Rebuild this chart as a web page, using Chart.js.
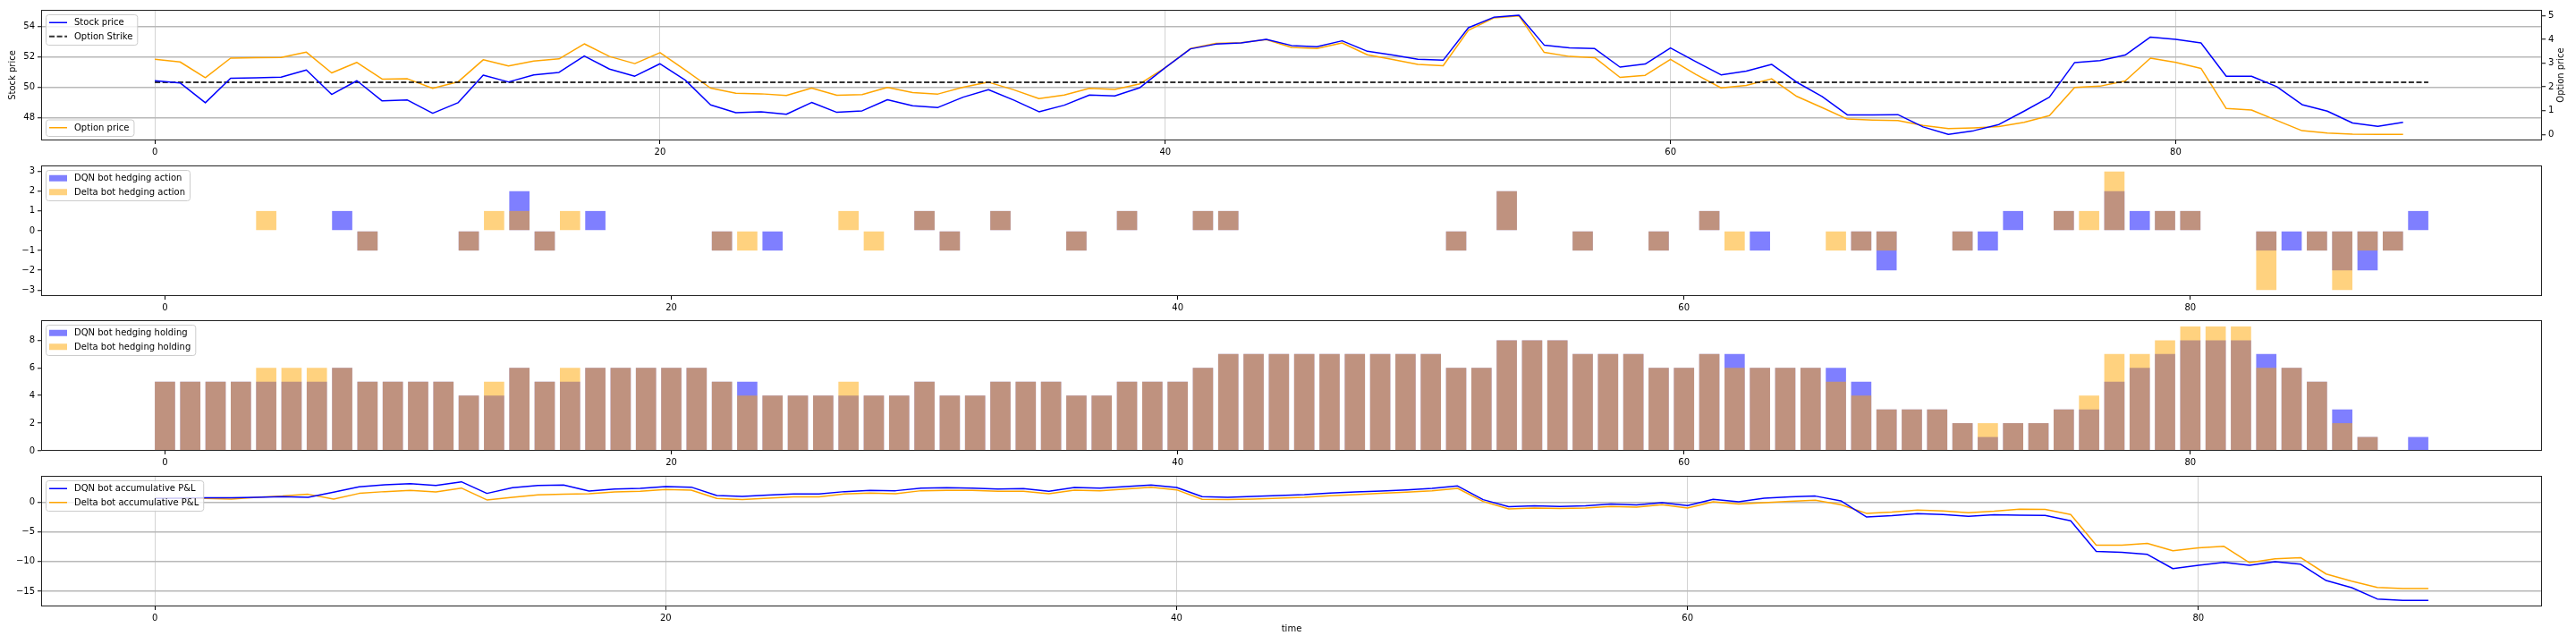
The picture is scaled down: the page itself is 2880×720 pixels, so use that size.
<!DOCTYPE html>
<html>
<head>
<meta charset="utf-8">
<script src="https://cdn.jsdelivr.net/npm/chart.js@4.4.1/dist/chart.umd.min.js"></script>
<style>
  html, body { margin: 0; padding: 0; background: #fff; }
  #page { position: relative; width: 2880px; height: 720px; overflow: hidden; }
  #page canvas { position: absolute; left: 0; }
</style>
</head>
<body>
<div id="page">
  <canvas id="priceChart" width="2880" height="181" style="top:0px"></canvas>
  <canvas id="actionChart" width="2880" height="180" style="top:175px"></canvas>
  <canvas id="holdingChart" width="2880" height="180" style="top:348px"></canvas>
  <canvas id="pnlChart" width="2880" height="190" style="top:522px"></canvas>
</div>
<script>
// Values, one entry per time step
const stockPrice = [
    50.43, 50.29, 48.98, 50.59, 50.63, 50.67, 51.14, 49.53, 50.43, 49.10,
    49.16, 48.29, 48.98, 50.80, 50.35, 50.82, 50.98, 52.06, 51.20, 50.73,
    51.55, 50.47, 48.84, 48.33, 48.39, 48.22, 49.00, 48.35, 48.45, 49.18,
    48.78, 48.67, 49.35, 49.84, 49.16, 48.39, 48.82, 49.49, 49.43, 49.98,
    51.29, 52.53, 52.84, 52.92, 53.16, 52.75, 52.67, 53.06, 52.37, 52.12,
    51.84, 51.78, 53.92, 54.61, 54.75, 52.78, 52.59, 52.55, 51.33, 51.53,
    52.59, 51.69, 50.82, 51.06, 51.51, 50.33, 49.39, 48.18, 48.18, 48.20,
    47.39, 46.90, 47.14, 47.55, 48.43, 49.35, 51.63, 51.76, 52.12, 53.31,
    53.16, 52.92, 50.73, 50.73, 50.04, 48.86, 48.43, 47.65, 47.43, 47.69
];
const optionPrice = [
    3.16, 3.05, 2.39, 3.21, 3.23, 3.24, 3.46, 2.59, 3.03, 2.33,
    2.34, 1.94, 2.21, 3.14, 2.88, 3.09, 3.18, 3.81, 3.28, 2.98,
    3.44, 2.71, 1.95, 1.73, 1.71, 1.64, 1.95, 1.65, 1.68, 1.98,
    1.76, 1.70, 1.99, 2.20, 1.88, 1.51, 1.66, 1.94, 1.89, 2.13,
    2.81, 3.61, 3.83, 3.86, 3.99, 3.66, 3.61, 3.85, 3.35, 3.15,
    2.95, 2.89, 4.38, 4.90, 4.99, 3.45, 3.28, 3.23, 2.40, 2.49,
    3.16, 2.53, 1.96, 2.06, 2.34, 1.60, 1.13, 0.65, 0.61, 0.59,
    0.38, 0.25, 0.28, 0.33, 0.51, 0.79, 1.98, 2.03, 2.25, 3.21,
    3.03, 2.78, 1.09, 1.03, 0.59, 0.16, 0.06, 0.01, 0.00, 0.00
];
const optionStrike = 50.33;
const strikeSteps = [0, 90];

const dqnAction = [
    0, 0, 0, 0, 0, 0, 0, 1, -1, 0,
    0, 0, -1, 0, 2, -1, 0, 1, 0, 0,
    0, 0, -1, 0, -1, 0, 0, 0, 0, 0,
    1, -1, 0, 1, 0, 0, -1, 0, 1, 0,
    0, 1, 1, 0, 0, 0, 0, 0, 0, 0,
    0, -1, 0, 2, 0, 0, -1, 0, 0, -1,
    0, 1, 0, -1, 0, 0, 0, -1, -2, 0,
    0, -1, -1, 1, 0, 1, 0, 2, 1, 1,
    1, 0, 0, -1, -1, -1, -2, -2, -1, 1
];
const deltaAction = [
    0, 0, 0, 0, 1, 0, 0, 0, -1, 0,
    0, 0, -1, 1, 1, -1, 1, 0, 0, 0,
    0, 0, -1, -1, 0, 0, 0, 1, -1, 0,
    1, -1, 0, 1, 0, 0, -1, 0, 1, 0,
    0, 1, 1, 0, 0, 0, 0, 0, 0, 0,
    0, -1, 0, 2, 0, 0, -1, 0, 0, -1,
    0, 1, -1, 0, 0, 0, -1, -1, -1, 0,
    0, -1, 0, 0, 0, 1, 1, 3, 0, 1,
    1, 0, 0, -3, 0, -1, -3, -1, -1, 0
];

const dqnHolding = [
    5, 5, 5, 5, 5, 5, 5, 6, 5, 5,
    5, 5, 4, 4, 6, 5, 5, 6, 6, 6,
    6, 6, 5, 5, 4, 4, 4, 4, 4, 4,
    5, 4, 4, 5, 5, 5, 4, 4, 5, 5,
    5, 6, 7, 7, 7, 7, 7, 7, 7, 7,
    7, 6, 6, 8, 8, 8, 7, 7, 7, 6,
    6, 7, 7, 6, 6, 6, 6, 5, 3, 3,
    3, 2, 1, 2, 2, 3, 3, 5, 6, 7,
    8, 8, 8, 7, 6, 5, 3, 1, 0, 1
];
const deltaHolding = [
    5, 5, 5, 5, 6, 6, 6, 6, 5, 5,
    5, 5, 4, 5, 6, 5, 6, 6, 6, 6,
    6, 6, 5, 4, 4, 4, 4, 5, 4, 4,
    5, 4, 4, 5, 5, 5, 4, 4, 5, 5,
    5, 6, 7, 7, 7, 7, 7, 7, 7, 7,
    7, 6, 6, 8, 8, 8, 7, 7, 7, 6,
    6, 7, 6, 6, 6, 6, 5, 4, 3, 3,
    3, 2, 2, 2, 2, 3, 4, 7, 7, 8,
    9, 9, 9, 6, 6, 5, 2, 1, 0, 0
];

const dqnPnl = [
    0.60, 0.65, 0.70, 0.70, 0.80, 0.90, 0.80, 1.65, 2.55, 2.90,
    3.10, 2.80, 3.40, 1.45, 2.40, 2.80, 2.85, 1.85, 2.20, 2.30,
    2.60, 2.50, 1.10, 0.95, 1.15, 1.35, 1.35, 1.75, 1.95, 1.90,
    2.35, 2.40, 2.35, 2.20, 2.25, 1.80, 2.45, 2.35, 2.60, 2.85,
    2.45, 0.90, 0.80, 0.95, 1.10, 1.25, 1.50, 1.70, 1.85, 2.05,
    2.30, 2.70, 0.40, -0.80, -0.65, -0.75, -0.65, -0.35, -0.50, -0.10,
    -0.60, 0.45, 0.05, 0.65, 0.85, 1.00, 0.20, -2.50, -2.30, -1.95,
    -2.10, -2.40, -2.15, -2.20, -2.25, -3.15, -8.30, -8.45, -8.80, -11.20,
    -10.65, -10.15, -10.65, -10.05, -10.45, -13.20, -14.40, -16.30, -16.55, -16.55
];
const deltaPnl = [
    0.60, 0.60, 0.60, 0.50, 0.80, 1.00, 1.30, 0.50, 1.45, 1.75,
    1.95, 1.70, 2.35, 0.35, 0.80, 1.20, 1.30, 1.40, 1.70, 1.80,
    2.10, 2.00, 0.60, 0.40, 0.65, 0.85, 0.85, 1.35, 1.50, 1.40,
    1.90, 1.95, 1.95, 1.80, 1.80, 1.40, 2.00, 1.90, 2.20, 2.50,
    2.05, 0.45, 0.40, 0.50, 0.65, 0.80, 1.05, 1.25, 1.45, 1.65,
    1.90, 2.30, 0.10, -1.15, -1.00, -1.10, -1.00, -0.75, -0.85, -0.45,
    -1.00, 0.05, -0.35, -0.10, 0.10, 0.30, -0.45, -1.90, -1.70, -1.35,
    -1.50, -1.80, -1.55, -1.20, -1.25, -2.10, -7.25, -7.25, -6.95, -8.20,
    -7.70, -7.45, -10.20, -9.55, -9.35, -12.10, -13.30, -14.35, -14.55, -14.55
];

// Tick labels
const timeTicks = [0, 20, 40, 60, 80];
const priceTicks = [48, 50, 52, 54];
const optionTicks = [0, 1, 2, 3, 4, 5];
const actionTicks = [-3, -2, -1, 0, 1, 2, 3];
const holdingTicks = [0, 2, 4, 6, 8];
const pnlTicks = [-15, -10, -5, 0];

Chart.defaults.font.family = '"DejaVu Sans", sans-serif';
Chart.defaults.font.size = 10;
Chart.defaults.color = '#000';

const BLUE = '#0000ff';
const ORANGE = '#ffa500';
const BLUE_BAR = 'rgba(0, 0, 255, 0.5)';
const ORANGE_BAR = 'rgba(255, 165, 0, 0.5)';

const pts = ys => ys.map((y, i) => ({ x: i, y: y }));
const minus = v => String(v).replace('-', '\u2212');

// black box round the plot area
const frame = {
    id: 'frame',
    afterDatasetsDraw(chart) {
        const { ctx, chartArea: a } = chart;
        ctx.save();
        ctx.strokeStyle = '#222';
        ctx.lineWidth = 1;
        ctx.strokeRect(Math.round(a.left) + 0.5, Math.round(a.top) + 0.5,
            Math.round(a.right - a.left) - 1, Math.round(a.bottom - a.top) - 1);
        ctx.restore();
    }
};

// matplotlib-like legend boxes, items taken from the chart's datasets
const boxLegend = {
    id: 'boxLegend',
    afterDraw(chart, args, opts) {
        const { ctx, chartArea: a } = chart;
        (opts.boxes || []).forEach(box => {
            const items = box.items.map(i => chart.data.datasets[i]);
            ctx.save();
            ctx.font = '10px "DejaVu Sans"';
            const textW = Math.max(...items.map(d => ctx.measureText(d.label).width));
            const w = 4 + 20 + 8 + textW + 5;
            const h = 8 + items.length * 10.5 + (items.length - 1) * 5;
            const x = a.left + 5;
            const y = box.corner === 'lower' ? a.bottom - 5 - h : a.top + 5;
            ctx.beginPath();
            ctx.roundRect(x + 0.5, y + 0.5, w, h, 3);
            ctx.fillStyle = 'rgba(255,255,255,0.8)';
            ctx.fill();
            ctx.strokeStyle = '#cccccc';
            ctx.lineWidth = 1;
            ctx.stroke();
            items.forEach((d, i) => {
                const cy = y + 4 + 5.25 + i * 15.5;
                if (chart.config.type === 'bar') {
                    ctx.fillStyle = d.backgroundColor;
                    ctx.fillRect(x + 4, cy - 3.5, 20, 7);
                } else {
                    ctx.beginPath();
                    ctx.strokeStyle = d.borderColor;
                    ctx.lineWidth = d.borderWidth || 1.5;
                    ctx.setLineDash(d.borderDash || []);
                    ctx.moveTo(x + 4, cy);
                    ctx.lineTo(x + 24, cy);
                    ctx.stroke();
                    ctx.setLineDash([]);
                }
                ctx.fillStyle = '#000';
                ctx.textBaseline = 'middle';
                ctx.textAlign = 'left';
                ctx.fillText(d.label, x + 32, cy + 0.5);
            });
            ctx.restore();
        });
    }
};

// right-hand axis label, reading bottom to top like matplotlib
const sideTitle = {
    id: 'sideTitle',
    afterDraw(chart, args, opts) {
        if (!opts.text) return;
        const { ctx, chartArea: a } = chart;
        ctx.save();
        ctx.translate(opts.x, (a.top + a.bottom) / 2);
        ctx.rotate(-Math.PI / 2);
        ctx.font = '10px "DejaVu Sans"';
        ctx.fillStyle = '#000';
        ctx.textAlign = 'center';
        ctx.textBaseline = 'middle';
        ctx.fillText(opts.text, 0, 0);
        ctx.restore();
    }
};

function xAxis(min, max, cfg) {
    return {
        type: 'linear', position: 'bottom', min: min, max: max, offset: false,
        afterBuildTicks: s => { s.ticks = timeTicks.map(v => ({ value: v })); },
        afterFit: s => { s.height = cfg.height; },
        grid: {
            drawOnChartArea: cfg.grid, color: '#d3d3d3', lineWidth: 1,
            tickLength: 4, tickColor: '#000', tickWidth: 1, offset: false
        },
        border: { display: false },
        ticks: { padding: 3, maxRotation: 0, autoSkip: false, callback: minus },
        title: cfg.title
            ? { display: true, text: cfg.title, padding: { top: 0, bottom: 3 } }
            : { display: false }
    };
}

function yAxis(min, max, tickVals, cfg) {
    return {
        type: 'linear', position: cfg.position || 'left', min: min, max: max,
        afterBuildTicks: s => { s.ticks = tickVals.map(v => ({ value: v })); },
        afterFit: s => { s.width = cfg.width; },
        grid: {
            drawOnChartArea: !!cfg.grid, color: '#b8b8b8', lineWidth: 1.5,
            tickLength: 4, tickColor: '#000', tickWidth: 1
        },
        border: { display: false },
        ticks: { padding: 3, autoSkip: false, callback: minus },
        title: cfg.title
            ? { display: true, text: cfg.title, padding: { top: 8, bottom: 0 } }
            : { display: false }
    };
}

const common = {
    responsive: false,
    animation: false,
    devicePixelRatio: 1,
    elements: {
        line: { borderWidth: 1.5, tension: 0, fill: false, borderJoinStyle: 'round' },
        point: { radius: 0, hoverRadius: 0 }
    }
};
const noLegend = { legend: { display: false }, tooltip: { enabled: false } };

// Stock price / option price
new Chart(document.getElementById('priceChart'), {
    type: 'line',
    data: {
        datasets: [
            { label: 'Stock price', data: pts(stockPrice), borderColor: BLUE, yAxisID: 'y' },
            { label: 'Option Strike', data: strikeSteps.map(x => ({ x: x, y: optionStrike })),
              borderColor: 'rgba(0,0,0,0.8)', borderDash: [6, 2.6], borderWidth: 2, yAxisID: 'y' },
            { label: 'Option price', data: pts(optionPrice), borderColor: ORANGE, yAxisID: 'y2' }
        ]
    },
    options: {
        ...common,
        layout: { padding: { top: 11, right: 0, bottom: 0, left: 0 } },
        scales: {
            x: xAxis(-4.5, 94.5, { grid: true, height: 24 }),
            y: yAxis(46.5, 55.1, priceTicks, { width: 46, grid: true, title: 'Stock price' }),
            y2: yAxis(-0.25, 5.24, optionTicks, { width: 38, position: 'right' })
        },
        plugins: {
            ...noLegend,
            boxLegend: { boxes: [{ corner: 'upper', items: [0, 1] }, { corner: 'lower', items: [2] }] },
            sideTitle: { text: 'Option price', x: 2863 }
        }
    },
    plugins: [frame, boxLegend, sideTitle]
});

// Hedging actions
new Chart(document.getElementById('actionChart'), {
    type: 'bar',
    data: {
        datasets: [
            { label: 'DQN bot hedging action', data: pts(dqnAction), backgroundColor: BLUE_BAR, order: 2 },
            { label: 'Delta bot hedging action', data: pts(deltaAction), backgroundColor: ORANGE_BAR, order: 1 }
        ]
    },
    options: {
        ...common,
        datasets: { bar: { grouped: false, barPercentage: 0.8, categoryPercentage: 1, borderWidth: 0 } },
        layout: { padding: { top: 10, right: 38, bottom: 0, left: 0 } },
        scales: {
            x: xAxis(-4.89, 93.89, { grid: false, height: 24 }),
            y: yAxis(-3.3, 3.3, actionTicks, { width: 46 })
        },
        plugins: { ...noLegend, boxLegend: { boxes: [{ corner: 'upper', items: [0, 1] }] } }
    },
    plugins: [frame, boxLegend]
});

// Hedging holdings
new Chart(document.getElementById('holdingChart'), {
    type: 'bar',
    data: {
        datasets: [
            { label: 'DQN bot hedging holding', data: pts(dqnHolding), backgroundColor: BLUE_BAR, order: 2 },
            { label: 'Delta bot hedging holding', data: pts(deltaHolding), backgroundColor: ORANGE_BAR, order: 1 }
        ]
    },
    options: {
        ...common,
        datasets: { bar: { grouped: false, barPercentage: 0.8, categoryPercentage: 1, borderWidth: 0 } },
        layout: { padding: { top: 10, right: 38, bottom: 0, left: 0 } },
        scales: {
            x: xAxis(-4.89, 93.89, { grid: false, height: 24 }),
            y: yAxis(0, 9.45, holdingTicks, { width: 46 })
        },
        plugins: { ...noLegend, boxLegend: { boxes: [{ corner: 'upper', items: [0, 1] }] } }
    },
    plugins: [frame, boxLegend]
});

// Accumulative P&L
new Chart(document.getElementById('pnlChart'), {
    type: 'line',
    data: {
        datasets: [
            { label: 'DQN bot accumulative P&L', data: pts(dqnPnl), borderColor: BLUE },
            { label: 'Delta bot accumulative P&L', data: pts(deltaPnl), borderColor: ORANGE }
        ]
    },
    options: {
        ...common,
        layout: { padding: { top: 10, right: 38, bottom: 0, left: 0 } },
        scales: {
            x: xAxis(-4.45, 93.45, { grid: true, height: 34, title: 'time' }),
            y: yAxis(-17.55, 4.4, pnlTicks, { width: 46, grid: true })
        },
        plugins: { ...noLegend, boxLegend: { boxes: [{ corner: 'upper', items: [0, 1] }] } }
    },
    plugins: [frame, boxLegend]
});
</script>
</body>
</html>
